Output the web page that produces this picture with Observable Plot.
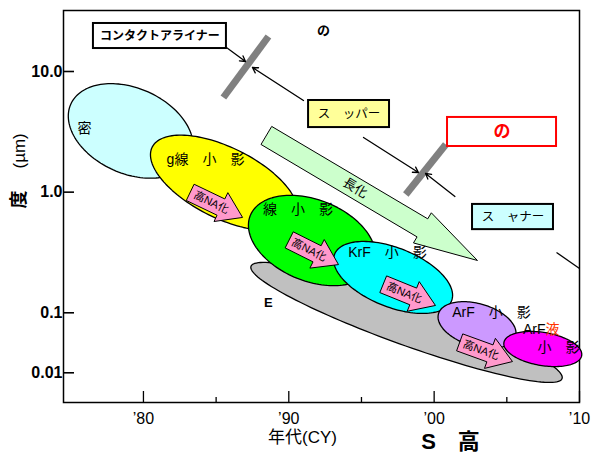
<!DOCTYPE html>
<html><head><meta charset="utf-8">
<script src="https://cdn.jsdelivr.net/npm/d3@7"></script>
<script src="https://cdn.jsdelivr.net/npm/@observablehq/plot@0.6"></script>
<style>body{margin:0;background:#fff}</style>
</head><body><div id="chart"></div>
<script>
// ---------- axes ----------
const xDomain = [1974.5, 2010];
const yBreaks = [0.0031623, 0.01, 0.1, 32.03];   // axis is compressed below 0.1
const yPixels = [402, 372.3, 312.3, 10];
const xTicks = [1980, 1990, 2000, 2010];
const xTickLabels = ["’80", "’90", "’00", "’10"];
const xMinorTicks = [1985, 1995, 2005];
const yTicks = [10, 1, 0.1, 0.01];
const yTickLabels = ["10.0", "1.0", "0.1", "0.01"];

// ---------- technology regions (major axis start -> end) ----------
const techNames = ["E", "密", "g線", "i線", "KrF", "ArF", "ArF液浸"];
const techStartYear = [1987.4, 1975.0, 1980.6, 1987.35, 1993.15, 2000.3, 2004.8];
const techStartRes = [0.243, 5.36, 2.36, 0.64, 0.306, 0.0966, 0.032];
const techEndYear = [2008.8, 1983.25, 1990.5, 1995.85, 2001.2, 2005.6, 2010.15];
const techEndRes = [0.008, 1.93, 0.603, 0.247, 0.126, 0.0406, 0.0194];
const techLabels = ["E", "密", "g線　小　影", "線　小　影", "KrF　小　影", "ArF　小　影", "小　影"];
const techLabelYear = [1988.6, 1975.95, 1984.27, 1990.63, 1996.79, 2003.95, 2008.56];
const techLabelRes = [0.122, 3.37, 1.87, 0.718, 0.316, 0.1006, 0.0264];

// ---------- 高NA化 arrows ----------
const naStartYear = [1983.24, 1990.05, 1996.52, 2001.78];
const naStartRes = [0.993, 0.401, 0.172, 0.032];
const naEndYear = [1986.82, 1993.42, 2000.09, 2005.39];
const naEndRes = [0.617, 0.251, 0.115, 0.0154];
const naLabel = "高NA化";

// ---------- 長化 trend arrow ----------
const trendStart = [1988.48, 2.94];
const trendEnd = [2002.98, 0.2714];
const trendLabel = "長化";

// ---------- limit bars ----------
const barStartYear = [1985.5, 1998.05];
const barStartRes = [6.09, 0.957];
const barEndYear = [1988.6, 2000.8];
const barEndRes = [19.5, 2.48];

// ---------- pointer arrows ----------
const ptrX1 = [1985.71, 1991.01, 1995.14, 2001.43];
const ptrY1 = [15.8, 5.75, 2.84, 0.921];
const ptrX2 = [1987.02, 1987.5, 1998.92, 1999.41];
const ptrY2 = [12.1, 10.8, 1.455, 1.428];
const lineX1 = [2008.42], lineY1 = [0.316], lineX2 = [2010], lineY2 = [0.233];

// ---------- boxes ----------
const boxLabels = ["コンタクトアライナー", "ス　ッパー", "の", "ス　ャナー"];
const boxX1 = [1976.56, 1991.36, 2000.92, 2002.64];
const boxX2 = [1985.71, 1996.93, 2008.42, 2008.21];
const boxY1 = [25.0, 5.75, 4.16, 0.791];
const boxY2 = [15.5, 3.43, 2.39, 0.489];
const topNote = {label: "の", year: 1992.39, res: 21.9};
const arfLiquid = {year: 2007.66, res: 0.0527};

// ---------- styles ----------
const FONT = "'Liberation Sans', Arial, 'Noto Sans CJK JP', sans-serif";
const techFill = ["#c0c0c0", "#ccffff", "#ffff00", "#00ff00", "#00ffff", "#cc99ff", "#ff00ff"];
const techAspect = [0.136, 0.65, 0.44, 0.61, 0.47, 0.53, 0.42];
const boxFill = ["#ffffff", "#ffff99", "#ffffff", "#ccffff"];
const boxStroke = ["#000", "#000", "#ff0000", "#000"];
const boxTextFill = ["#000", "#000", "#ff0000", "#000"];
const boxFontSize = [12, 12.5, 17, 12.5];
const boxFontWeight = ["bold", "normal", "bold", "normal"];

// scales mirrored from Plot's so shapes are built in screen space
const sx = d3.scaleLinear(xDomain, [63, 579]);
const sy = d3.scaleLog(yBreaks, yPixels);
const inv = (px, py) => ({x: sx.invert(px), y: sy.invert(py)});

function ellipse(i) {
  const x1 = sx(techStartYear[i]), y1 = sy(techStartRes[i]);
  const x2 = sx(techEndYear[i]), y2 = sy(techEndRes[i]);
  const cx = (x1 + x2) / 2, cy = (y1 + y2) / 2;
  const a = Math.hypot(x2 - x1, y2 - y1) / 2, b = a * techAspect[i];
  const t = Math.atan2(y2 - y1, x2 - x1);
  return d3.range(0, 144).map(k => {
    const u = 2 * Math.PI * k / 144;
    return inv(cx + a * Math.cos(u) * Math.cos(t) - b * Math.sin(u) * Math.sin(t),
               cy + a * Math.cos(u) * Math.sin(t) + b * Math.sin(u) * Math.cos(t));
  });
}

function blockArrow(x0, r0, x1, r1, bw, hw, hl, id) {
  const X0 = sx(x0), Y0 = sy(r0), X1 = sx(x1), Y1 = sy(r1);
  const L = Math.hypot(X1 - X0, Y1 - Y0);
  const ux = (X1 - X0) / L, uy = (Y1 - Y0) / L, nx = -uy, ny = ux;
  const P = (s, w) => ({...inv(X0 + ux * s + nx * w, Y0 + uy * s + ny * w), id});
  return [P(0, -bw), P(L - hl, -bw), P(L - hl, -hw), P(L, 0), P(L - hl, hw), P(L - hl, bw), P(0, bw)];
}
function arrowLabel(x0, r0, x1, r1, f, text) {
  const X0 = sx(x0), Y0 = sy(r0), X1 = sx(x1), Y1 = sy(r1);
  return {...inv(X0 + (X1 - X0) * f, Y0 + (Y1 - Y0) * f), text,
          rotate: Math.atan2(Y1 - Y0, X1 - X0) * 180 / Math.PI};
}

const naPolys = naStartYear.flatMap((d, i) => blockArrow(naStartYear[i], naStartRes[i], naEndYear[i], naEndRes[i], 9, 16, 24, i));
const naTexts = naStartYear.map((d, i) => arrowLabel(naStartYear[i], naStartRes[i], naEndYear[i], naEndRes[i], 0.4, naLabel));
const trendPoly = blockArrow(trendStart[0], trendStart[1], trendEnd[0], trendEnd[1], 10.5, 17.5, 64, 0);
const trendText = [arrowLabel(trendStart[0], trendStart[1], trendEnd[0], trendEnd[1], 0.42, trendLabel)];

const idx = a => a.map((d, i) => i);
const boxes = idx(boxLabels);

const marks = [
  Plot.frame({stroke: "#000", strokeWidth: 1.5}),
  Plot.axisY({ticks: yTicks, tickSize: -11, tickPadding: 12, strokeWidth: 1.6,
    tickFormat: d => yTickLabels[yTicks.indexOf(d)], label: null, fontSize: 16, fontWeight: "bold"}),
  Plot.axisX({ticks: xTicks, tickSize: -11, tickPadding: 21, strokeWidth: 1.3,
    tickFormat: d => xTickLabels[xTicks.indexOf(d)], label: null, fontSize: 16}),
  Plot.axisX({ticks: xMinorTicks, tickSize: -5, strokeWidth: 1.3, tickFormat: () => "", label: null}),
  Plot.line(trendPoly, {x: "x", y: "y", curve: "linear-closed", fill: "#ccffcc", stroke: "#000", strokeWidth: 1}),
  Plot.text(trendText, {x: "x", y: "y", text: "text", rotate: "rotate", fontSize: 13}),
  Plot.link(idx(barStartYear), {x1: i => barStartYear[i], y1: i => barStartRes[i], x2: i => barEndYear[i], y2: i => barEndRes[i], stroke: "#808080", strokeWidth: 7}),
  Plot.arrow(idx(ptrX1), {x1: i => ptrX1[i], y1: i => ptrY1[i], x2: i => ptrX2[i], y2: i => ptrY2[i], stroke: "#000", strokeWidth: 1.3, headLength: 7}),
  Plot.link(idx(lineX1), {x1: i => lineX1[i], y1: i => lineY1[i], x2: i => lineX2[i], y2: i => lineY2[i], stroke: "#000", strokeWidth: 1.3}),
  Plot.rect(boxes, {x1: i => boxX1[i], x2: i => boxX2[i], y1: i => boxY1[i], y2: i => boxY2[i],
    fill: i => boxFill[i], stroke: i => boxStroke[i], strokeWidth: 2}),
  ...boxes.map(i => Plot.text([i], {x: () => (boxX1[i] + boxX2[i]) / 2, y: () => Math.sqrt(boxY1[i] * boxY2[i]),
    text: () => boxLabels[i], fill: boxTextFill[i], fontSize: boxFontSize[i], fontWeight: boxFontWeight[i]})),
  Plot.text([topNote], {x: "year", y: "res", text: "label", fontSize: 13, fontWeight: "bold"}),
  ...idx(techNames).map(i => Plot.line(ellipse(i), {x: "x", y: "y", curve: "linear-closed",
    fill: techFill[i], stroke: "#000", strokeWidth: 1.3})),
  Plot.line(naPolys, {x: "x", y: "y", z: "id", curve: "linear-closed", fill: "#ff99cc", stroke: "#000", strokeWidth: 1}),
  Plot.text(naTexts, {x: "x", y: "y", text: "text", rotate: "rotate", fontSize: 11}),
  Plot.text(idx(techLabels).filter(i => i > 0), {x: i => techLabelYear[i], y: i => techLabelRes[i], text: i => techLabels[i], fontSize: 14}),
  Plot.text([0], {x: () => techLabelYear[0], y: () => techLabelRes[0], text: () => techLabels[0], fontSize: 13, fontWeight: "bold"}),
  Plot.text([arfLiquid], {x: "year", y: "res", text: () => "ArF", textAnchor: "end", fontSize: 14}),
  Plot.text([arfLiquid], {x: "year", y: "res", text: () => "液", textAnchor: "start", fontSize: 14, fill: "#ff3300"}),
  // axis titles
  Plot.text(["度"], {text: d => d, frameAnchor: "left", dx: -44, dy: 2, rotate: -90, fontSize: 18, fontWeight: "bold"}),
  Plot.text(["(µm)"], {text: d => d, frameAnchor: "left", dx: -44, dy: -38, rotate: -90, fontSize: 17}),
  Plot.text(["年代(CY)"], {text: d => d, frameAnchor: "bottom", dx: -19, dy: 40, fontSize: 17}),
  Plot.text(["S　高"], {text: d => d, frameAnchor: "bottom", dx: 129, dy: 46, fontSize: 22, fontWeight: "bold"})
];

const chart = Plot.plot({
  width: 594, height: 457,
  marginTop: 10, marginRight: 15, marginBottom: 55, marginLeft: 63,
  style: {fontFamily: FONT, background: "#fff", color: "#000", overflow: "visible"},
  x: {domain: xDomain},
  y: {type: "log", domain: yBreaks, range: yPixels},
  marks
});
document.getElementById("chart").append(chart);
</script>
</body></html>
